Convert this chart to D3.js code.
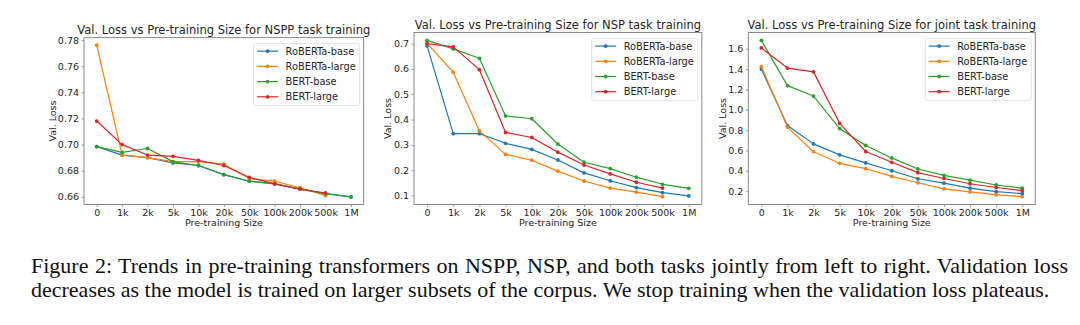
<!DOCTYPE html>
<html>
<head>
<meta charset="utf-8">
<script src="https://cdn.jsdelivr.net/npm/d3@7"></script>
<style>
  body { margin: 0; background: #fff; }
  svg { display: block; }
  .tick text { font-family: "DejaVu Sans", sans-serif; }
</style>
</head>
<body>
<svg id="fig" width="1080" height="325"></svg>
<script>
// Pre-training subset sizes shared by all three panels
const sizes = ["0", "1k", "2k", "5k", "10k", "20k", "50k", "100k", "200k", "500k", "1M"];
const models = ["RoBERTa-base", "RoBERTa-large", "BERT-base", "BERT-large"];
const palette = ["#1f77b4", "#ff7f0e", "#2ca02c", "#d62728"];

// Validation loss, NSPP task training (null = run not trained at that size)
const nsppRobertaBase  = [0.6985, 0.692, 0.690, 0.686, 0.684, 0.677, 0.672, 0.670, 0.666, 0.6625, 0.660];
const nsppRobertaLarge = [0.776, 0.692, 0.690, 0.687, 0.687, 0.685, 0.674, 0.672, 0.667, 0.661, null];
const nsppBertBase     = [0.6985, 0.694, 0.697, 0.687, 0.684, 0.677, 0.672, 0.670, 0.666, 0.6625, 0.660];
const nsppBertLarge    = [0.718, 0.700, 0.692, 0.691, 0.688, 0.684, 0.675, 0.670, 0.666, 0.663, null];

// Validation loss, NSP task training
const nspRobertaBase  = [0.691, 0.344, 0.344, 0.306, 0.282, 0.240, 0.189, 0.158, 0.131, 0.111, 0.098];
const nspRobertaLarge = [0.701, 0.587, 0.355, 0.262, 0.239, 0.196, 0.157, 0.129, 0.113, 0.095, null];
const nspBertBase     = [0.713, 0.679, 0.642, 0.414, 0.403, 0.303, 0.231, 0.206, 0.172, 0.144, 0.128];
const nspBertLarge    = [0.700, 0.687, 0.597, 0.349, 0.329, 0.271, 0.220, 0.185, 0.152, 0.129, null];

// Validation loss, joint task training
const jointRobertaBase  = [1.400, 0.845, 0.665, 0.557, 0.478, 0.401, 0.322, 0.279, 0.230, 0.195, 0.177];
const jointRobertaLarge = [1.425, 0.830, 0.588, 0.474, 0.421, 0.345, 0.283, 0.223, 0.193, 0.166, 0.146];
const jointBertBase     = [1.683, 1.238, 1.135, 0.815, 0.649, 0.527, 0.418, 0.355, 0.308, 0.261, 0.230];
const jointBertLarge    = [1.608, 1.410, 1.373, 0.867, 0.590, 0.484, 0.382, 0.325, 0.273, 0.236, 0.205];

// Y tick values per panel
const nsppTicks  = [0.66, 0.68, 0.70, 0.72, 0.74, 0.76, 0.78];
const nspTicks   = [0.1, 0.2, 0.3, 0.4, 0.5, 0.6, 0.7];
const jointTicks = [0.2, 0.4, 0.6, 0.8, 1.0, 1.2, 1.4, 1.6];

const panels = [
  { title: "Val. Loss vs Pre-training Size for NSPP task training",
    series: [nsppRobertaBase, nsppRobertaLarge, nsppBertBase, nsppBertLarge],
    ticks: nsppTicks, fmt: d3.format(".2f"),
    box: { left: 84, right: 363.7, top: 37.6, bottom: 204.5 }, ylabelX: 53 },
  { title: "Val. Loss vs Pre-training Size for NSP task training",
    series: [nspRobertaBase, nspRobertaLarge, nspBertBase, nspBertLarge],
    ticks: nspTicks, fmt: d3.format(".1f"),
    box: { left: 414, right: 701.8, top: 32.5, bottom: 204.5 }, ylabelX: 388 },
  { title: "Val. Loss vs Pre-training Size for joint task training",
    series: [jointRobertaBase, jointRobertaLarge, jointBertBase, jointBertLarge],
    ticks: jointTicks, fmt: d3.format(".1f"),
    box: { left: 748.3, right: 1035.3, top: 32.5, bottom: 204.5 }, ylabelX: 723 }
];

const svg = d3.select("#fig");
const FONT = "'DejaVu Sans', sans-serif";
const TEXT = "#262626";
const SPINE = "#8a8a8a";

panels.forEach(p => {
  const b = p.box;
  const g = svg.append("g");

  // categorical x positions with half-step padding on both sides
  const x = d3.scalePoint().domain(sizes).range([b.left, b.right]).padding(0.5);

  // y domain: data extent with 5% margins
  const vals = p.series.flat().filter(v => v != null);
  const [lo, hi] = d3.extent(vals);
  const m = (hi - lo) * 0.05;
  const y = d3.scaleLinear().domain([lo - m, hi + m]).range([b.bottom, b.top]);

  // axes
  const xAxis = d3.axisBottom(x).tickSize(2.5).tickPadding(2.5);
  const yAxis = d3.axisLeft(y).tickValues(p.ticks).tickFormat(p.fmt).tickSize(2.5).tickPadding(2.5);

  const gx = g.append("g").attr("transform", `translate(0,${b.bottom})`).call(xAxis);
  const gy = g.append("g").attr("transform", `translate(${b.left},0)`).call(yAxis);
  [gx, gy].forEach(a => {
    a.select(".domain").remove();
    a.selectAll(".tick line").attr("stroke", SPINE).attr("stroke-width", 0.8);
    a.selectAll(".tick text").attr("fill", TEXT).style("font-size", "9.5px");
  });

  // frame
  g.append("rect")
    .attr("x", b.left).attr("y", b.top)
    .attr("width", b.right - b.left).attr("height", b.bottom - b.top)
    .attr("fill", "none").attr("stroke", SPINE).attr("stroke-width", 1);

  // series lines and markers
  const line = d3.line()
    .defined(d => d.v != null)
    .x(d => x(d.k)).y(d => y(d.v));

  p.series.forEach((s, i) => {
    const pts = s.map((v, j) => ({ k: sizes[j], v }));
    g.append("path").datum(pts)
      .attr("d", line).attr("fill", "none")
      .attr("stroke", palette[i]).attr("stroke-width", 1.2)
      .attr("stroke-linejoin", "round");
    g.selectAll(null).data(pts.filter(d => d.v != null)).join("circle")
      .attr("cx", d => x(d.k)).attr("cy", d => y(d.v))
      .attr("r", 1.9).attr("fill", palette[i]);
  });

  // title
  g.append("text")
    .attr("x", (b.left + b.right) / 2).attr("y", b.top - 3.5)
    .attr("text-anchor", "middle")
    .style("font-family", FONT).style("font-size", "11.5px").attr("fill", TEXT)
    .text(p.title);

  // axis labels
  g.append("text")
    .attr("x", (b.left + b.right) / 2).attr("y", b.bottom + 21.5)
    .attr("text-anchor", "middle")
    .style("font-family", FONT).style("font-size", "9.5px").attr("fill", TEXT)
    .text("Pre-training Size");
  g.append("text")
    .attr("transform", `translate(${p.ylabelX},${(b.top + b.bottom) / 2}) rotate(-90)`)
    .attr("text-anchor", "middle").attr("dy", "0.35em")
    .style("font-family", FONT).style("font-size", "9.5px").attr("fill", TEXT)
    .text("Val. Loss");

  // legend, upper right
  const lg = g.append("g");
  const rowH = 15.2;
  const items = lg.selectAll("g").data(models).join("g");
  const labels = items.append("text")
    .attr("x", 0).attr("y", (d, i) => i * rowH).attr("dy", "0.35em")
    .style("font-family", FONT).style("font-size", "9.8px").attr("fill", TEXT)
    .text(d => d);
  const textW = d3.max(labels.nodes(), n => n.getComputedTextLength());
  const padL = 3.5, handle = 21, gap = 7.5, padR = 4;
  const w = padL + handle + gap + textW + padR;
  const h = rowH * models.length + 1;
  const lx = b.right - 4 - w, ly = b.top + 6;
  lg.insert("rect", ":first-child")
    .attr("x", 0).attr("y", -7.6).attr("width", w).attr("height", h)
    .attr("rx", 2).attr("fill", "#fff").attr("fill-opacity", 0.85)
    .attr("stroke", "#dcdcdc").attr("stroke-width", 0.8);
  labels.attr("x", padL + handle + gap);
  items.append("line")
    .attr("x1", padL).attr("x2", padL + handle)
    .attr("y1", (d, i) => i * rowH).attr("y2", (d, i) => i * rowH)
    .attr("stroke", (d, i) => palette[i]).attr("stroke-width", 1.2);
  items.append("circle")
    .attr("cx", padL + handle / 2).attr("cy", (d, i) => i * rowH)
    .attr("r", 1.9).attr("fill", (d, i) => palette[i]);
  lg.attr("transform", `translate(${lx},${ly + 7.6})`);
});

// figure caption: first line justified to the column width, last line ragged
const caption = [
  "Figure 2: Trends in pre-training transformers on NSPP, NSP, and both tasks jointly from left to right. Validation loss",
  "decreases as the model is trained on larger subsets of the corpus. We stop training when the validation loss plateaus."
];
const colLeft = 31, colWidth = 1037;
const capLines = svg.append("g").selectAll("text").data(caption).join("text")
  .attr("x", colLeft).attr("y", (d, i) => 272.5 + i * 24)
  .style("font-family", "'Liberation Serif', 'Times New Roman', serif")
  .style("font-size", "22px").attr("fill", "#111")
  .text(d => d);
capLines.each(function (d, i) {
  if (i === caption.length - 1) return;
  const natural = this.getComputedTextLength();
  const spaces = d.split(" ").length - 1;
  const extra = (colWidth - natural) / spaces;
  if (extra > 0) d3.select(this).style("word-spacing", extra + "px");
});
</script>
</body>
</html>
